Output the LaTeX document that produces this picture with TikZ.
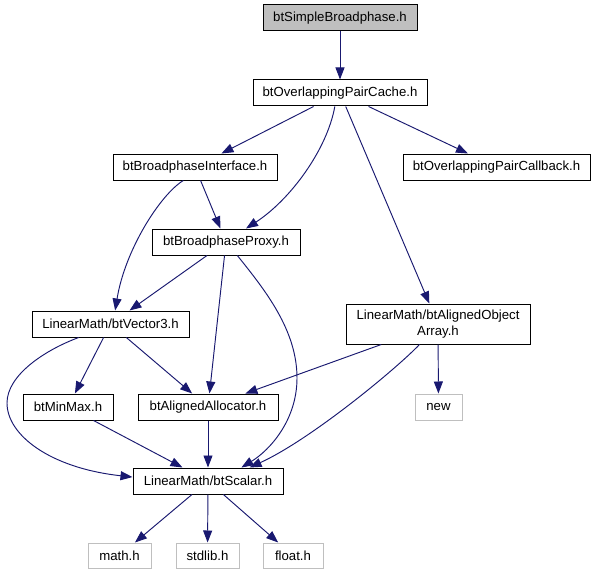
\documentclass[tikz,border=0pt]{standalone}
\usepackage{fontspec}
\setmainfont{Liberation Sans}
\usetikzlibrary{arrows.meta}
\definecolor{edgeblue}{RGB}{25,25,112}
\definecolor{sysgray}{RGB}{191,191,191}
\begin{document}
\begin{tikzpicture}[x=1pt,y=-1pt,
  hdr/.style={draw=black,line width=1pt,rectangle,inner sep=0pt,minimum height=26pt,
    font=\fontsize{13.2}{15.5}\selectfont,align=center,fill=white},
  syshdr/.style={hdr,draw=sysgray},
  rooth/.style={hdr,fill=sysgray},
  dep/.style={draw=edgeblue,line width=0.95pt,-{Triangle[length=12pt,width=9pt]},fill=none}
]
\useasboundingbox (0,0) rectangle (596,575);
\node[rooth,minimum width=154pt] (simple) at (340,18) {btSimpleBroadphase.h};
\node[hdr,minimum width=174pt] (cache) at (340,93) {btOverlappingPairCache.h};
\node[hdr,minimum width=164pt] (iface) at (195,167) {btBroadphaseInterface.h};
\node[hdr,minimum width=187pt] (cb) at (496.5,167) {btOverlappingPairCallback.h};
\node[hdr,minimum width=148pt] (proxy) at (226,242) {btBroadphaseProxy.h};
\node[hdr,minimum width=157pt] (vec) at (110.5,324) {LinearMath/btVector3.h};
\node[hdr,minimum width=184pt,minimum height=40pt] (arr) at (438,324) {LinearMath/btAlignedObject\\Array.h};
\node[hdr,minimum width=90pt] (minmax) at (68,407) {btMinMax.h};
\node[hdr,minimum width=140pt] (alloc) at (208,407) {btAlignedAllocator.h};
\node[syshdr,minimum width=47pt] (new) at (438.5,407) {new};
\node[hdr,minimum width=150pt] (scalar) at (208,481) {LinearMath/btScalar.h};
\node[syshdr,minimum width=63pt,minimum height=25pt] (math) at (119.5,555.5) {math.h};
\node[syshdr,minimum width=63pt,minimum height=25pt] (stdlib) at (207.5,555.5) {stdlib.h};
\node[syshdr,minimum width=60pt,minimum height=25pt] (float) at (293,555.5) {float.h};

\draw[dep] (simple) -- (cache);
\draw[dep] (cache) -- (iface);
\draw[dep] (cache) -- (cb);
\draw[dep] (cache) -- (arr);
\draw[dep] (cache.-111) .. controls (327,150) and (290,200) .. (proxy.34);
\draw[dep] (iface) -- (proxy);
\draw[dep] (iface.-131) .. controls (160,195) and (125,250) .. (vec.71);
\draw[dep] (proxy) -- (vec);
\draw[dep] (proxy) -- (alloc);
\draw[dep] (proxy.-50) .. controls (265,290) and (297,330) .. (297,378) .. controls (297,420) and (270,450) .. (scalar.22);
\draw[dep] (vec) -- (minmax);
\draw[dep] (vec) -- (alloc);
\draw[dep] (vec.-157) .. controls (45,350) and (7,375) .. (7,403) .. controls (7,435) and (50,468) .. (scalar.177);
\draw[dep] (arr) -- (alloc);
\draw[dep] (arr) -- (new);
\draw[dep] (arr.-132) .. controls (395,370) and (310,440) .. (scalar.18);
\draw[dep] (minmax) -- (scalar);
\draw[dep] (alloc) -- (scalar);
\draw[dep] (scalar) -- (math);
\draw[dep] (scalar) -- (stdlib);
\draw[dep] (scalar) -- (float);
\end{tikzpicture}
\end{document}
